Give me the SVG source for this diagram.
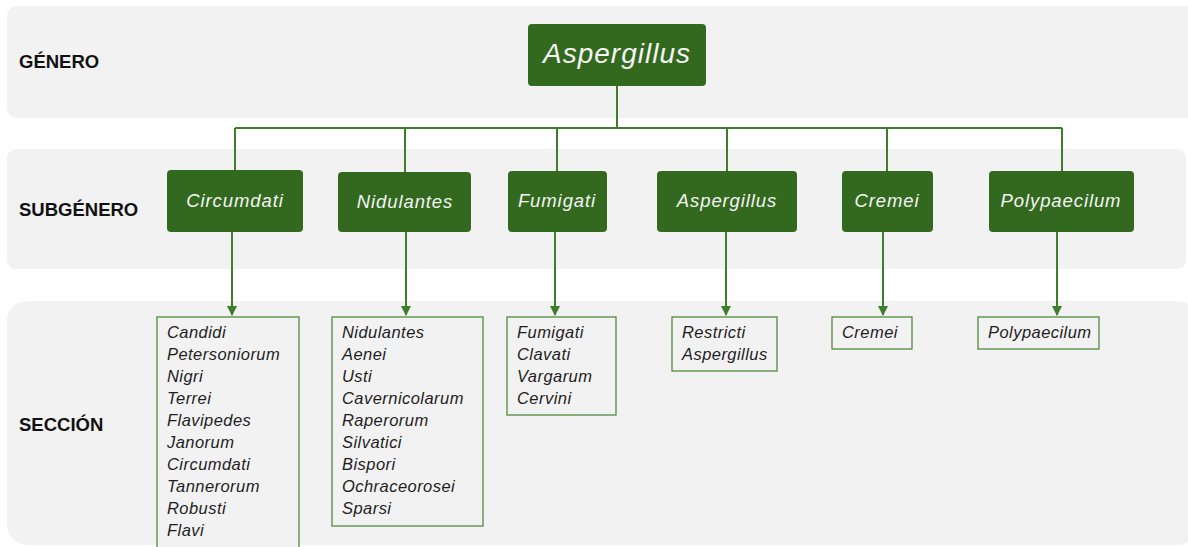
<svg xmlns="http://www.w3.org/2000/svg" width="1188" height="547" viewBox="0 0 1188 547">
<style>
.band{fill:#f2f2f2}
.lvl{font-family:"Liberation Sans",Arial,sans-serif;font-weight:bold;font-size:18.5px;fill:#111}
.node{fill:#33691e}
.nt{font-family:"Liberation Sans",Arial,sans-serif;font-style:italic;fill:#f4f4f4;text-anchor:middle}
.sec{fill:#f2f2f2;stroke:#4f8a3c;stroke-width:1.3}
.st{font-family:"Liberation Sans",Arial,sans-serif;font-style:italic;font-size:16.5px;letter-spacing:0.45px;fill:#1e1e1e}
.ln{stroke:#3f7d2c;stroke-width:2;fill:none}
</style>
<defs>
<marker id="arr" viewBox="0 0 10 10" refX="9" refY="5" markerWidth="5" markerHeight="5" orient="auto" markerUnits="strokeWidth">
<path d="M0,0 L10,5 L0,10 z" fill="#3f7d2c"/>
</marker>
</defs>
<g id="bands">
<rect class="band" x="7" y="6" width="1190" height="112" rx="10"/>
<rect class="band" x="7" y="149" width="1179" height="120" rx="9"/>
<rect class="band" x="7" y="301" width="1190" height="244" rx="20"/>
<text class="lvl" x="19" y="68">GÉNERO</text>
<text class="lvl" x="19" y="216">SUBGÉNERO</text>
<text class="lvl" x="19" y="431">SECCIÓN</text>
</g>
<g id="connectors">
<path class="ln" d="M617,86 V128 M235,128 H1062 M235,128 V170 M405,128 V172 M557,128 V171 M727,128 V171 M887,128 V171 M1062,128 V171"/>
<path class="ln" d="M232,232 V315" marker-end="url(#arr)"/>
<path class="ln" d="M406,232 V315" marker-end="url(#arr)"/>
<path class="ln" d="M555,232 V315" marker-end="url(#arr)"/>
<path class="ln" d="M726,232 V315" marker-end="url(#arr)"/>
<path class="ln" d="M883,232 V315" marker-end="url(#arr)"/>
<path class="ln" d="M1057,232 V315" marker-end="url(#arr)"/>
</g>
<g id="genus">
<rect class="node" x="528" y="24" width="178" height="62" rx="4"/>
<text class="nt" x="617" y="63" font-size="28" letter-spacing="1">Aspergillus</text>
</g>
<g id="sub-circumdati">
<rect class="node" x="167" y="170" width="136" height="62" rx="4"/>
<text class="nt" x="235" y="207" font-size="18.5" letter-spacing="0.9">Circumdati</text>
</g>
<g id="sub-nidulantes">
<rect class="node" x="338" y="172" width="133" height="60" rx="4"/>
<text class="nt" x="405" y="208" font-size="18.5" letter-spacing="0.9">Nidulantes</text>
</g>
<g id="sub-fumigati">
<rect class="node" x="508" y="171" width="99" height="61" rx="4"/>
<text class="nt" x="557" y="207" font-size="18.5" letter-spacing="0.9">Fumigati</text>
</g>
<g id="sub-aspergillus">
<rect class="node" x="657" y="171" width="140" height="61" rx="4"/>
<text class="nt" x="727" y="207" font-size="18.5" letter-spacing="0.9">Aspergillus</text>
</g>
<g id="sub-cremei">
<rect class="node" x="842" y="171" width="91" height="61" rx="4"/>
<text class="nt" x="887" y="207" font-size="18.5" letter-spacing="0.9">Cremei</text>
</g>
<g id="sub-polypaecilum">
<rect class="node" x="989" y="171" width="145" height="61" rx="4"/>
<text class="nt" x="1061" y="207" font-size="18.5" letter-spacing="0.9">Polypaecilum</text>
</g>
<g id="sec-circumdati">
<rect class="sec" x="157" y="317" width="142" height="240"/>
<text class="st" x="167" y="338">Candidi</text>
<text class="st" x="167" y="360">Petersoniorum</text>
<text class="st" x="167" y="382">Nigri</text>
<text class="st" x="167" y="404">Terrei</text>
<text class="st" x="167" y="426">Flavipedes</text>
<text class="st" x="167" y="448">Janorum</text>
<text class="st" x="167" y="470">Circumdati</text>
<text class="st" x="167" y="492">Tannerorum</text>
<text class="st" x="167" y="514">Robusti</text>
<text class="st" x="167" y="536">Flavi</text>
</g>
<g id="sec-nidulantes">
<rect class="sec" x="332" y="317" width="151" height="209"/>
<text class="st" x="342" y="338">Nidulantes</text>
<text class="st" x="342" y="360">Aenei</text>
<text class="st" x="342" y="382">Usti</text>
<text class="st" x="342" y="404">Cavernicolarum</text>
<text class="st" x="342" y="426">Raperorum</text>
<text class="st" x="342" y="448">Silvatici</text>
<text class="st" x="342" y="470">Bispori</text>
<text class="st" x="342" y="492">Ochraceorosei</text>
<text class="st" x="342" y="514">Sparsi</text>
</g>
<g id="sec-fumigati">
<rect class="sec" x="507" y="317" width="109" height="98"/>
<text class="st" x="517" y="338">Fumigati</text>
<text class="st" x="517" y="360">Clavati</text>
<text class="st" x="517" y="382">Vargarum</text>
<text class="st" x="517" y="404">Cervini</text>
</g>
<g id="sec-aspergillus">
<rect class="sec" x="672" y="317" width="105" height="54"/>
<text class="st" x="682" y="338">Restricti</text>
<text class="st" x="682" y="360">Aspergillus</text>
</g>
<g id="sec-cremei">
<rect class="sec" x="832" y="317" width="80" height="32"/>
<text class="st" x="842" y="338">Cremei</text>
</g>
<g id="sec-polypaecilum">
<rect class="sec" x="978" y="317" width="121" height="32"/>
<text class="st" x="988" y="338">Polypaecilum</text>
</g>
</svg>
